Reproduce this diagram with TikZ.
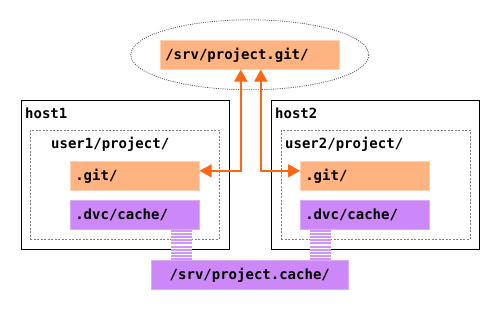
\documentclass[tikz,border=0pt]{standalone}
\usepackage{fontspec}
\setmonofont{DejaVu Sans Mono}
\definecolor{GitPeach}{HTML}{FFB380}
\definecolor{CachePurple}{HTML}{CC88F8}
\definecolor{LinkOrange}{HTML}{FF6611}
\definecolor{FrameGray}{HTML}{808080}
\usetikzlibrary{positioning,shapes.geometric,arrows.meta,calc}

\begin{document}
\begin{tikzpicture}[x=1pt, y=-1pt,
    every node/.style={font=\ttfamily\bfseries\fontsize{14}{16}\selectfont},
    dirbox/.style={rectangle, anchor=north west, inner xsep=5pt, inner ysep=0pt,
      minimum height=29pt, align=left, text width=#1},
    gitdir/.style={dirbox=#1, fill=GitPeach, draw=GitPeach!60!white, line width=0.6pt},
    cachedir/.style={dirbox=#1, fill=CachePurple, draw=CachePurple!70!white, line width=0.6pt},
    hostbox/.style={rectangle, draw=black, line width=0.9pt, anchor=north west,
      minimum width=208pt, minimum height=149pt, inner sep=0pt},
    workdir/.style={rectangle, draw=FrameGray, dash pattern=on 2pt off 1.5pt, line width=0.6pt,
      anchor=north west, minimum width=189pt, minimum height=109pt, inner sep=0pt},
    tag/.style={anchor=base west, inner sep=0pt},
    link/.style={draw=LinkOrange, line width=1.6pt,
      {Triangle[length=12pt,width=13pt]}-{Triangle[length=12pt,width=13pt]}},
    stripes/.style={draw=CachePurple!90!white, line width=21pt, dash pattern=on 2pt off 1.2pt}]
    \useasboundingbox (0,0) rectangle (500,310);

    % shared git remote
    \node[gitdir=169pt] (srv) at (160,40) {/srv/project.git/};
    \draw[black!65, dash pattern=on 1pt off 1.2pt, line width=0.8pt] (srv.center) ellipse [x radius=119pt, y radius=35pt];

    % two hosts, each with its own clone
    \node[hostbox] (host1) at (21,100) {};
    \node[hostbox] (host2) at (271,100) {};
    \node[workdir] (wsA) at (30,130) {};
    \node[workdir] (wsB) at (281,130) {};
    \node[tag] at (25,118) {host1};
    \node[tag] at (275,118) {host2};
    \node[tag] at (51,148) {user1/project/};
    \node[tag] at (285,148) {user2/project/};

    \node[gitdir=119pt] (gitA) at (70,161) {.git/};
    \node[cachedir=119pt] (dvcA) at (70,200) {.dvc/cache/};
    \node[gitdir=119pt] (gitB) at (300,161) {.git/};
    \node[cachedir=119pt] (dvcB) at (300,200) {.dvc/cache/};

    % shared cache directory
    \node[cachedir=187pt, align=center] (cache) at (151,260) {/srv/project.cache/};

    \draw[link] ([yshift=5pt]gitA.east) -| ([xshift=-9pt]srv.south);
    \draw[link] ([xshift=11pt]srv.south) |- ([yshift=5pt]gitB.west);

    \draw[stripes] ([xshift=-18.5pt]dvcA.south east) -- ([xshift=-18.5pt]dvcA.south east |- cache.north);
    \draw[stripes] ([xshift=20.5pt]dvcB.south west) -- ([xshift=20.5pt]dvcB.south west |- cache.north);
  \end{tikzpicture}
\end{document}
